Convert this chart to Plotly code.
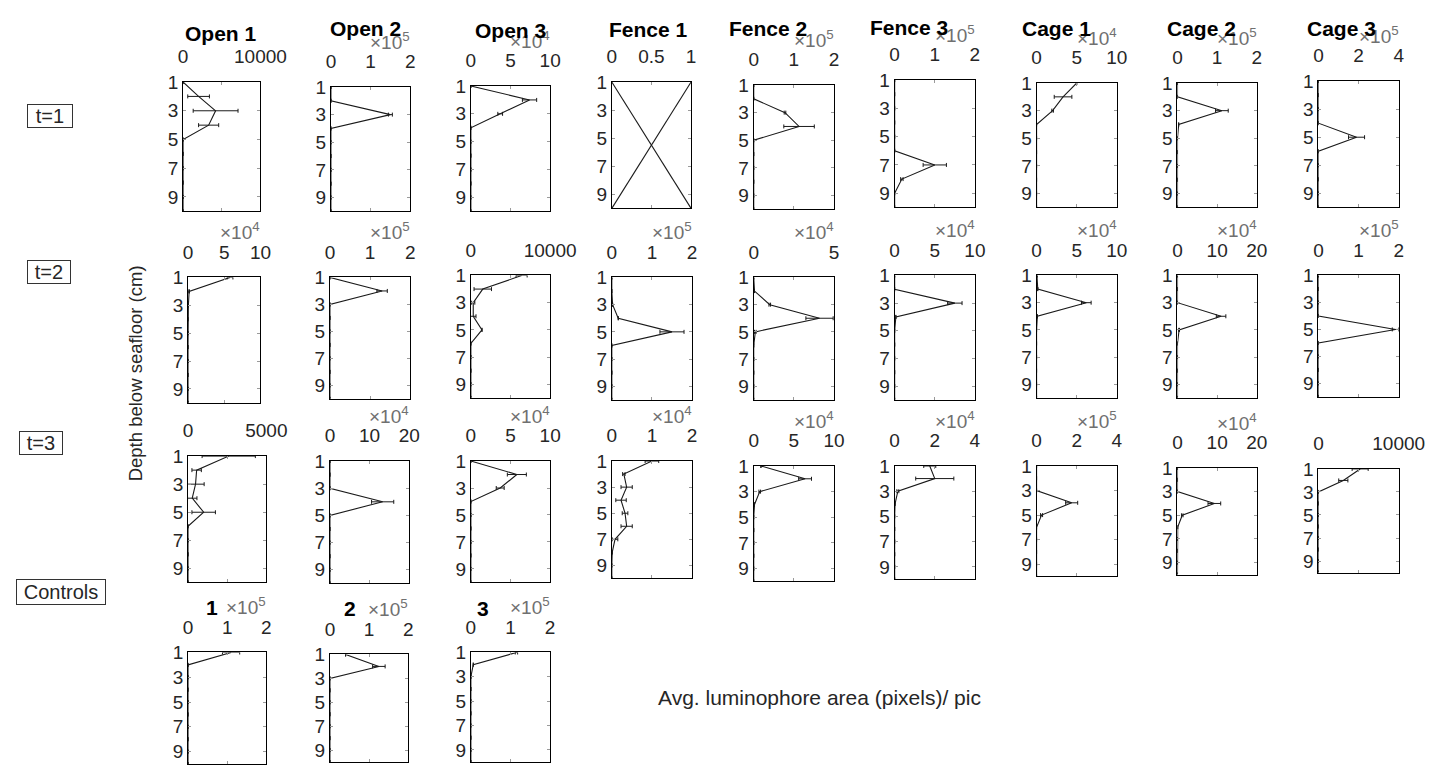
import plotly.graph_objects as go

W, H = 1456, 765
FONT = "Liberation Sans, Arial, Helvetica, sans-serif"

depth = [1, 2, 3, 4, 5, 6, 7, 8, 9, 10]
depth_ticks = [1, 3, 5, 7, 9]

row_names = ["t=1", "t=2", "t=3", "Controls"]
site_titles = ["Open 1", "Open 2", "Open 3", "Fence 1", "Fence 2", "Fence 3", "Cage 1", "Cage 2", "Cage 3"]
control_titles = ["1", "2", "3"]

# ---------------- t=1 ----------------
open1_t1 = [0, 2000, 4200, 3300, 0, 0, 0, 0, 0, 0]
open1_t1_err = [0, 1400, 2900, 1300, 0, 0, 0, 0, 0, 0]
open2_t1 = [0, 0, 1.5e5, 0, 0, 0, 0, 0, 0, 0]
open2_t1_err = [0, 0, 0.05e5, 0, 0, 0, 0, 0, 0, 0]
open3_t1 = [0, 7.4e4, 3.7e4, 0, 0, 0, 0, 0, 0, 0]
open3_t1_err = [0, 0.9e4, 0.3e4, 0, 0, 0, 0, 0, 0, 0]
fence1_t1_depth = [1, 10]
fence1_t1_a = [0, 1]
fence1_t1_b = [1, 0]
fence2_t1 = [0, 0, 0.78e5, 1.13e5, 0, 0, 0, 0, 0, 0]
fence2_t1_err = [0, 0, 0.02e5, 0.38e5, 0, 0, 0, 0, 0, 0]
fence3_t1 = [0, 0, 0, 0, 0, 0, 1.0e5, 0.18e5, 0, 0]
fence3_t1_err = [0, 0, 0, 0, 0, 0, 0.29e5, 0.03e5, 0, 0]
cage1_t1 = [5.0e4, 3.3e4, 2.0e4, 0, 0, 0, 0, 0, 0, 0]
cage1_t1_err = [0, 1.1e4, 0.1e4, 0, 0, 0, 0, 0, 0, 0]
cage2_t1 = [0, 0, 1.12e5, 0.03e5, 0, 0, 0, 0, 0, 0]
cage2_t1_err = [0, 0, 0.16e5, 0, 0, 0, 0, 0, 0, 0]
cage3_t1 = [0, 0, 0, 0, 1.9e5, 0, 0, 0, 0, 0]
cage3_t1_err = [0, 0, 0, 0, 0.4e5, 0, 0, 0, 0, 0]

# ---------------- t=2 ----------------
open1_t2 = [5.8e4, 0.15e4, 0.05e4, 0, 0, 0, 0, 0, 0, 0]
open1_t2_err = [0.4e4, 0.05e4, 0, 0, 0, 0, 0, 0, 0, 0]
open2_t2 = [0, 1.3e5, 0, 0, 0, 0, 0, 0, 0, 0]
open2_t2_err = [0, 0.13e5, 0, 0, 0, 0, 0, 0, 0, 0]
open3_t2 = [6400, 1500, 300, 300, 1400, 0, 0, 0, 0, 0]
open3_t2_err = [700, 1100, 200, 350, 0, 0, 0, 0, 0, 0]
fence1_t2 = [0, 0, 0.02e5, 0.16e5, 1.5e5, 0, 0, 0, 0, 0]
fence1_t2_err = [0, 0, 0, 0, 0.3e5, 0, 0, 0, 0, 0]
fence2_t2 = [0, 0.05e4, 1.0e4, 4.1e4, 0.1e4, 0, 0, 0, 0, 0]
fence2_t2_err = [0, 0, 0.05e4, 0.85e4, 0.05e4, 0, 0, 0, 0, 0]
fence3_t2 = [0, 0, 7.5e4, 0.15e4, 0, 0, 0, 0, 0, 0]
fence3_t2_err = [0, 0, 0.9e4, 0, 0, 0, 0, 0, 0, 0]
cage1_t2 = [0.05e4, 0.15e4, 6.2e4, 0.1e4, 0, 0, 0, 0, 0, 0]
cage1_t2_err = [0, 0, 0.6e4, 0, 0, 0, 0, 0, 0, 0]
cage2_t2 = [0, 0, 0, 11e4, 0.4e4, 0, 0, 0, 0, 0]
cage2_t2_err = [0, 0, 0, 1.2e4, 0.1e4, 0, 0, 0, 0, 0]
cage3_t2 = [0, 0, 0, 0, 1.92e5, 0, 0, 0, 0, 0]
cage3_t2_err = [0, 0, 0, 0, 0.08e5, 0, 0, 0, 0, 0]

# ---------------- t=3 ----------------
open1_t3 = [2600, 550, 480, 270, 1000, 0, 0, 0, 0, 0]
open1_t3_err = [1700, 300, 550, 300, 750, 0, 0, 0, 0, 0]
open2_t3 = [0, 0, 0, 13.3e4, 0, 0, 0, 0, 0, 0]
open2_t3_err = [0, 0, 0, 2.8e4, 0, 0, 0, 0, 0, 0]
open3_t3 = [0, 5.8e4, 3.7e4, 0, 0, 0, 0, 0, 0, 0]
open3_t3_err = [0, 1.2e4, 0.5e4, 0, 0, 0, 0, 0, 0, 0]
fence1_t3 = [1.0e4, 0.3e4, 0.37e4, 0.23e4, 0.33e4, 0.37e4, 0.08e4, 0.01e4, 0, 0]
fence1_t3_err = [0.17e4, 0.03e4, 0.14e4, 0.13e4, 0.07e4, 0.14e4, 0.07e4, 0, 0, 0]
fence2_t3 = [0.9e4, 6.4e4, 0.75e4, 0.1e4, 0, 0, 0, 0, 0, 0]
fence2_t3_err = [0, 0.8e4, 0.1e4, 0, 0, 0, 0, 0, 0, 0]
fence3_t3 = [1.75e4, 2.0e4, 0.16e4, 0.02e4, 0, 0, 0, 0, 0, 0]
fence3_t3_err = [0.3e4, 0.95e4, 0.05e4, 0, 0, 0, 0, 0, 0, 0]
cage1_t3 = [0, 0, 0, 1.75e5, 0.25e5, 0, 0, 0, 0, 0]
cage1_t3_err = [0, 0, 0, 0.3e5, 0.05e5, 0, 0, 0, 0, 0]
cage2_t3 = [0, 0, 0, 9.3e4, 1.2e4, 0.05e4, 0, 0, 0, 0]
cage2_t3_err = [0, 0, 0, 1.6e4, 0.2e4, 0, 0, 0, 0, 0]
cage3_t3 = [5200, 3100, 0, 0, 0, 0, 0, 0, 0, 0]
cage3_t3_err = [1000, 570, 0, 0, 0, 0, 0, 0, 0, 0]

# ---------------- Controls ----------------
control1 = [1.1e5, 0, 0, 0, 0, 0, 0, 0, 0, 0]
control1_err = [0.22e5, 0, 0, 0, 0, 0, 0, 0, 0, 0]
control2 = [0.4e5, 1.25e5, 0, 0, 0, 0, 0, 0, 0, 0]
control2_err = [0, 0.16e5, 0, 0, 0, 0, 0, 0, 0, 0]
control3 = [1.15e5, 0.06e5, 0, 0, 0, 0, 0, 0, 0, 0]
control3_err = [0.03e5, 0, 0, 0, 0, 0, 0, 0, 0, 0]

# x-axis extents, exponents and tick labels (ticks at 0, half, full)
t1_xmax = [1e4, 2e5, 1e5, 1, 2e5, 2e5, 1e5, 2e5, 4e5]
t1_exponent = [None, 5, 4, None, 5, 5, 4, 5, 5]
t1_ticktext = [["0", "", "10000"], ["0", "1", "2"], ["0", "5", "10"], ["0", "0.5", "1"],
               ["0", "1", "2"], ["0", "1", "2"], ["0", "5", "10"], ["0", "1", "2"], ["0", "2", "4"]]
t2_xmax = [1e5, 2e5, 1e4, 2e5, 5e4, 1e5, 1e5, 2e5, 2e5]
t2_exponent = [4, 5, None, 5, 4, 4, 4, 4, 5]
t2_ticktext = [["0", "5", "10"], ["0", "1", "2"], ["0", "", "10000"], ["0", "1", "2"],
               ["0", "", "5"], ["0", "5", "10"], ["0", "5", "10"], ["0", "10", "20"], ["0", "1", "2"]]
t3_xmax = [5000, 2e5, 1e5, 2e4, 1e5, 4e4, 4e5, 2e5, 1e4]
t3_exponent = [None, 4, 4, 4, 4, 4, 5, 4, None]
t3_ticktext = [["0", "", "5000"], ["0", "10", "20"], ["0", "5", "10"], ["0", "1", "2"],
               ["0", "5", "10"], ["0", "2", "4"], ["0", "2", "4"], ["0", "10", "20"], ["0", "", "10000"]]
ctrl_xmax = [2e5, 2e5, 2e5]
ctrl_exponent = [5, 5, 5]
ctrl_ticktext = [["0", "1", "2"], ["0", "1", "2"], ["0", "1", "2"]]

rows = [
    dict(series=[open1_t1, open2_t1, open3_t1, None, fence2_t1, fence3_t1, cage1_t1, cage2_t1, cage3_t1],
         errors=[open1_t1_err, open2_t1_err, open3_t1_err, None, fence2_t1_err, fence3_t1_err,
                 cage1_t1_err, cage2_t1_err, cage3_t1_err],
         xmax=t1_xmax, exponent=t1_exponent, ticktext=t1_ticktext),
    dict(series=[open1_t2, open2_t2, open3_t2, fence1_t2, fence2_t2, fence3_t2, cage1_t2, cage2_t2, cage3_t2],
         errors=[open1_t2_err, open2_t2_err, open3_t2_err, fence1_t2_err, fence2_t2_err, fence3_t2_err,
                 cage1_t2_err, cage2_t2_err, cage3_t2_err],
         xmax=t2_xmax, exponent=t2_exponent, ticktext=t2_ticktext),
    dict(series=[open1_t3, open2_t3, open3_t3, fence1_t3, fence2_t3, fence3_t3, cage1_t3, cage2_t3, cage3_t3],
         errors=[open1_t3_err, open2_t3_err, open3_t3_err, fence1_t3_err, fence2_t3_err, fence3_t3_err,
                 cage1_t3_err, cage2_t3_err, cage3_t3_err],
         xmax=t3_xmax, exponent=t3_exponent, ticktext=t3_ticktext),
    dict(series=[control1, control2, control3],
         errors=[control1_err, control2_err, control3_err],
         xmax=ctrl_xmax, exponent=ctrl_exponent, ticktext=ctrl_ticktext),
]

# axes boxes in pixels: (left, right, top, bottom)
boxes = [
    [(182, 261, 73, 204), (333, 414, 78, 204), (476, 557, 77, 204), (620, 701, 73, 201), (765, 847, 76, 202),
     (909, 991, 71, 200), (1054, 1136, 74, 200), (1198, 1279, 74, 200), (1342, 1424, 72, 200)],
    [(187, 261, 271, 398), (332, 414, 271, 394), (476, 557, 269, 393), (620, 702, 271, 395), (765, 847, 271, 395),
     (909, 991, 269, 395), (1054, 1136, 269, 393), (1198, 1279, 269, 393), (1342, 1424, 269, 392)],
    [(187, 267, 452, 580), (332, 413, 457, 581), (476, 557, 457, 580), (620, 702, 457, 576), (765, 847, 462, 579),
     (909, 991, 462, 577), (1054, 1136, 462, 574), (1198, 1279, 464, 572), (1342, 1424, 465, 570)],
    [(187, 267, 651, 764), (332, 412, 653, 762), (476, 557, 651, 762)],
]

title_pos_top = [(221, 24), (368, 19), (517, 21), (658, 20), (780, 19), (924, 18), (1074, 19), (1223, 19), (1366, 19)]
title_pos_ctrl = [(211, 605), (352, 606), (488, 606)]

INK = "#1a1a1a"
TICK = "#262626"


def px(x):
    return x / W


def py(y):
    return 1 - y / H


def note(text, x, y, **kw):
    d = dict(text=text, x=px(x), y=py(y), xref="paper", yref="paper",
             xanchor="center", yanchor="middle", showarrow=False)
    d.update(kw)
    return d


fig = go.Figure()
layout_axes = {}
annotations = []
n = 0
for r, row in enumerate(rows):
    for c, box in enumerate(boxes[r]):
        n += 1
        sfx = "" if n == 1 else str(n)
        left, right, top, bottom = box
        xmax = row["xmax"][c]
        vals = row["series"][c]
        if vals is None:
            for xs in (fence1_t1_a, fence1_t1_b):
                fig.add_trace(go.Scatter(x=xs, y=fence1_t1_depth, mode="lines",
                                         line=dict(color=INK, width=1.1),
                                         xaxis="x" + sfx, yaxis="y" + sfx, showlegend=False,
                                         hoverinfo="skip"))
        else:
            errs = [e if e > 0 else None for e in row["errors"][c]]
            fig.add_trace(go.Scatter(x=vals, y=depth, mode="lines",
                                     line=dict(color=INK, width=1.1),
                                     error_x=dict(type="data", array=errs, color=INK, thickness=1, width=2),
                                     xaxis="x" + sfx, yaxis="y" + sfx, showlegend=False))
        common = dict(showline=True, mirror="ticks", linecolor="black", linewidth=1,
                      ticks="inside", ticklen=3, tickcolor="#9a9a9a", showgrid=False, zeroline=False,
                      tickfont=dict(family=FONT, size=19, color=TICK), fixedrange=True)
        layout_axes["xaxis" + sfx] = dict(domain=[px(left), px(right)], anchor="y" + sfx, side="top",
                                          range=[0, xmax], tickmode="array",
                                          tickvals=[0, xmax / 2, xmax], ticktext=row["ticktext"][c],
                                          ticklabelstandoff=10, **common)
        layout_axes["yaxis" + sfx] = dict(domain=[py(bottom), py(top)], anchor="x" + sfx,
                                          range=[10, 1], tickmode="array", tickvals=depth_ticks,
                                          ticklabelstandoff=0, **common)
        exp = row["exponent"][c]
        if exp is not None:
            annotations.append(note("×10<sup>%d</sup>" % exp, right + 2, top - 47, xanchor="right",
                                    font=dict(family=FONT, size=19, color="#707070")))
        if r == 0:
            tx, ty = title_pos_top[c]
            annotations.append(note("<b>%s</b>" % site_titles[c], tx, ty,
                                    font=dict(family=FONT, size=21, color="black")))
        if r == 3:
            tx, ty = title_pos_ctrl[c]
            annotations.append(note("<b>%s</b>" % control_titles[c], tx, ty,
                                    font=dict(family=FONT, size=21, color="black")))

# boxed row labels
row_label_pos = [(46, 107, 44, 22), (45, 265, 42, 22), (37, 439, 42, 22), (57, 590, 88, 24)]
for name, (cx, cy, bw, bh) in zip(row_names, row_label_pos):
    annotations.append(note(name, cx, cy, width=bw, height=bh, borderpad=0,
                            bordercolor="#333333", borderwidth=1, bgcolor="white",
                            font=dict(family=FONT, size=20, color=TICK)))

annotations.append(note("Depth below seafloor (cm)", 133, 368, textangle=-90,
                        font=dict(family=FONT, size=18.5, color=TICK)))
annotations.append(note("Avg. luminophore area (pixels)/ pic", 832, 697,
                        font=dict(family=FONT, size=21, color=TICK)))

fig.update_layout(width=W, height=H, margin=dict(l=0, r=0, t=0, b=0),
                  paper_bgcolor="white", plot_bgcolor="white",
                  font=dict(family=FONT), annotations=annotations, **layout_axes)

fig.write_html("out.html", config={"displayModeBar": False})
